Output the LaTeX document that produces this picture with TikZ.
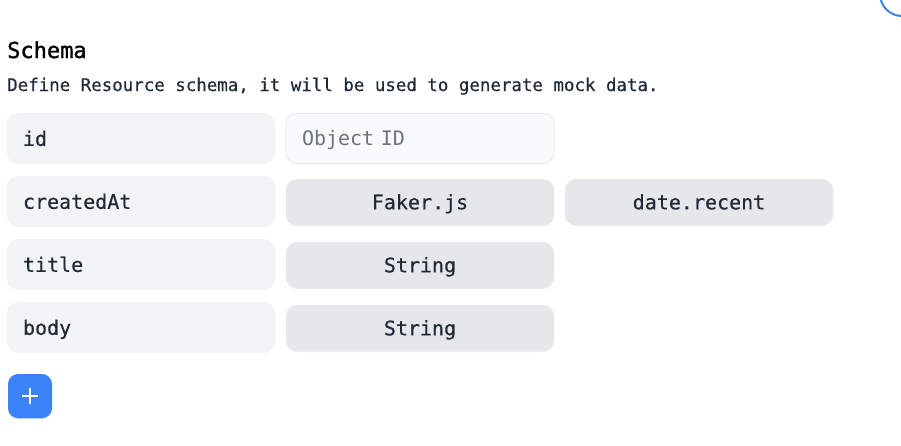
\documentclass[tikz,border=0pt]{standalone}
\usepackage{fontspec}
\newfontfamily\mono[FakeBold=0.35]{DejaVu Sans Mono}
\newfontfamily\monolight{DejaVu Sans Mono}
\newfontfamily\monohead[FakeBold=1.3]{DejaVu Sans Mono}
\usetikzlibrary{shadows}
\definecolor{fieldbg}{HTML}{F3F4F6}
\definecolor{inputbg}{HTML}{F9FAFB}
\definecolor{inputbd}{HTML}{E5E7EB}
\definecolor{chipbg}{HTML}{E5E7EB}
\definecolor{inktext}{HTML}{1F2937}
\definecolor{placeholder}{HTML}{6B7280}
\definecolor{brand}{HTML}{3B82F6}
\begin{document}
\begin{tikzpicture}[x=1pt,y=-1pt,
  fieldbox/.style={fill=fieldbg, rounded corners=11pt, minimum width=268pt, minimum height=51pt,
    text width=236pt, align=left, inner xsep=16pt, inner ysep=0pt,
    font=\mono\fontsize{20}{23}\selectfont, text=inktext, text height=14.6pt, text depth=0pt},
  inputbox/.style={fill=inputbg, draw=inputbd, line width=0.8pt, rounded corners=11pt, minimum width=267pt, minimum height=50pt,
    text width=236pt, align=left, inner xsep=16pt, inner ysep=0pt,
    font=\monolight\fontsize{20}{23}\selectfont, text=placeholder, text height=14.6pt, text depth=0pt},
  chipbox/.style={fill=chipbg, rounded corners=11pt, minimum width=268pt, minimum height=46pt,
    inner sep=0pt, align=center,
    drop shadow={shadow xshift=0pt, shadow yshift=-1pt, opacity=0.12, fill=black!60},
    font=\mono\fontsize{20}{23}\selectfont, text=inktext, text height=14.6pt, text depth=0pt},
  addbtn/.style={fill=brand, rounded corners=10pt, minimum width=44pt, minimum height=44pt, inner sep=0pt,
    drop shadow={shadow xshift=0pt, shadow yshift=-1pt, opacity=0.25, fill=brand}},
]
\useasboundingbox (0,0) rectangle (901,445);
\fill[white] (0,0) rectangle (901,445);

% top-right partial circle
\draw[brand, line width=2pt] (902,-6) circle (22);

% heading
\node[anchor=base west, inner sep=0pt, font=\monohead\fontsize{22}{26}\selectfont, text=black] (title) at (7,58) {Schema};
\node[anchor=base west, inner sep=0pt, font=\mono\fontsize{17.45}{20}\selectfont, text=inktext] (subtitle) at (7,91) {Define Resource schema, it will be used to generate mock data.};

% row 1
\node[fieldbox] (f1) at (141,138.5) {id};
\node[inputbox] (v1) at (420,138.5) {Object ID};

% row 2
\node[fieldbox] (f2) at (141,201.5) {createdAt};
\node[chipbox] (v2) at (420,202) {Faker.js};
\node[chipbox] (w2) at (699,202) {date.recent};

% row 3
\node[fieldbox] (f3) at (141,264.5) {title};
\node[chipbox] (v3) at (420,265) {String};

% row 4
\node[fieldbox] (f4) at (141,327.5) {body};
\node[chipbox] (v4) at (420,328) {String};

% add button
\node[addbtn] (add) at (30,396) {};
\draw[white, line width=2.6pt] ([xshift=-8pt]add.center) -- ([xshift=8pt]add.center);
\draw[white, line width=2.6pt] ([yshift=-8pt]add.center) -- ([yshift=8pt]add.center);
\end{tikzpicture}
\end{document}
